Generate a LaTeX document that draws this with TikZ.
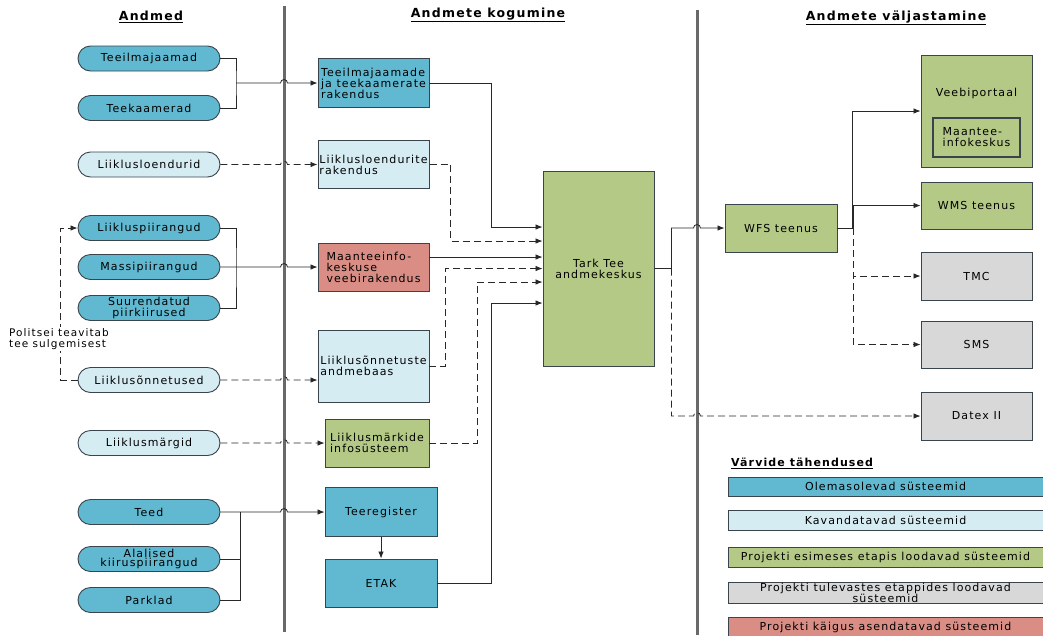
\documentclass[tikz,border=0pt]{standalone}
\usepackage{fontspec}
\setmainfont{DejaVu Sans}[LetterSpace=10]
\usetikzlibrary{shapes.geometric, arrows, arrows.meta, calc}
\definecolor{sysold}{RGB}{96,185,209}
\definecolor{sysplan}{RGB}{214,236,243}
\definecolor{sysfirst}{RGB}{181,201,134}
\definecolor{sysnext}{RGB}{216,216,216}
\definecolor{sysrepl}{RGB}{217,141,132}
\definecolor{rim}{RGB}{58,68,76}
\definecolor{wire}{RGB}{40,40,40}
\definecolor{divider}{RGB}{105,105,105}
\tikzstyle{pill} = [rectangle, rounded corners=12.5pt, minimum width=142pt, minimum height=25pt, text centered, align=center, draw=rim, line width=0.9pt, inner sep=1pt, font=\fontsize{11}{11.5}\selectfont]
\tikzstyle{sysbox} = [rectangle, minimum width=111pt, minimum height=48pt, align=left, draw=rim, line width=0.9pt, inner sep=1.5pt, font=\fontsize{11}{11}\selectfont]
\tikzstyle{keybox} = [rectangle, minimum width=315pt, minimum height=20pt, align=center, draw=rim, line width=0.9pt, inner sep=0.5pt, font=\fontsize{11}{8.5}\selectfont]
\tikzstyle{heading} = [font=\bfseries\fontsize{12.5}{14}\selectfont, inner sep=1pt]
\tikzstyle{wireline} = [draw=wire, line width=0.8pt]
\tikzstyle{arrow} = [wireline, -{Latex[length=7pt,width=5.5pt]}]
\tikzstyle{dline} = [wireline, dash pattern=on 7pt off 4pt]
\tikzstyle{darrow} = [arrow, dash pattern=on 7pt off 4pt]
\tikzstyle{divline} = [draw=divider, line width=3pt]

\begin{document}
\begin{tikzpicture}
[x=1pt, y=-1pt, every node/.style={font=\fontsize{11}{11}\selectfont}]
\fill[white] (0,0) rectangle (1043,635);
\useasboundingbox (0,0) rectangle (1043,635);

\coordinate (sepa) at (284,6);
\coordinate (sepb) at (697,10);
\draw[divline] (sepa) -- (284,632);
\draw[divline] (sepb) -- (697,635);

\node (hdata) [heading] at (151,17) {\underline{Andmed}};
\node (hcollect) [heading] at (488,15) {\underline{Andmete kogumine}};
\node (hout) [heading] at (896,18) {\underline{Andmete väljastamine}};

\node (tm) [pill, fill=sysold] at (149,58.5) {Teeilmajaamad};
\node (tk) [pill, fill=sysold] at (149,108) {Teekaamerad};
\node (ll) [pill, fill=sysplan] at (149,164.5) {Liiklusloendurid};
\node (lp) [pill, fill=sysold] at (149,228) {Liikluspiirangud};
\node (mp) [pill, fill=sysold] at (149,267) {Massipiirangud};
\node (sp) [pill, fill=sysold] at (149,308) {Suurendatud\\piirkiirused};
\node (lo) [pill, fill=sysplan] at (149,380) {Liiklusõnnetused};
\node (lm) [pill, fill=sysplan] at (149,443) {Liiklusmärgid};
\node (td) [pill, fill=sysold] at (149,512) {Teed};
\node (ak) [pill, fill=sysold, font=\fontsize{11}{9}\selectfont] at (149,559) {Alalised\\kiiruspiirangud};
\node (pk) [pill, fill=sysold] at (149,600) {Parklad};

\node (rak) [sysbox, fill=sysold, minimum height=49pt] at (373.5,83) {Teeilmajaamade\\ja teekaamerate\\rakendus};
\node (llr) [sysbox, fill=sysplan] at (373.5,164.5) {Liiklusloendurite\\rakendus};
\node (mvr) [sysbox, fill=sysrepl] at (373.5,267) {Maanteeinfo-\\keskuse\\veebirakendus};
\node (lor) [sysbox, fill=sysplan, minimum height=72pt] at (373.5,366) {Liiklusõnnetuste\\andmebaas};
\node (lmi) [sysbox, fill=sysfirst, minimum width=104pt] at (377,443) {Liiklusmärkide\\infosüsteem};
\node (treg) [sysbox, fill=sysold, minimum width=112pt, minimum height=49pt, align=center] at (381,512) {Teeregister};
\node (etak) [sysbox, fill=sysold, minimum width=112pt, align=center, below of=treg, node distance=71pt] {ETAK};

\node (tt) [sysbox, fill=sysfirst, minimum height=195pt, align=center] at (598.5,268.5) {Tark Tee\\andmekeskus};
\coordinate (tt1) at ([yshift=41.5pt]tt.west);
\coordinate (tt2) at ([yshift=27.5pt]tt.west);
\coordinate (tt3) at ([yshift=11.5pt]tt.west);
\coordinate (tt5) at ([yshift=-13.5pt]tt.west);
\coordinate (tt6) at ([yshift=-34.5pt]tt.west);

\node (wfs) [sysbox, fill=sysfirst, minimum width=112pt, align=center] at (781,228) {WFS teenus};
\node (vp) [sysbox, fill=sysfirst, minimum height=112pt] at (976.5,111) {};
\node (vplabel) at (976.5,93) {Veebiportaal};
\node (mik) [sysbox, fill=sysfirst, minimum width=87pt, minimum height=39pt, line width=1.2pt] at (976.5,137.5) {Maantee-\\infokeskus};
\node (wms) [sysbox, fill=sysfirst, minimum height=47pt, align=center] at (976.5,205.5) {WMS teenus};
\node (tmc) [sysbox, fill=sysnext, align=center] at (976.5,276) {TMC};
\node (sms) [sysbox, fill=sysnext, minimum height=47pt, align=center] at (976.5,344.5) {SMS};
\node (datex) [sysbox, fill=sysnext, align=center] at (976.5,416) {Datex II};

\node (hkey) [heading, font=\bfseries\fontsize{11}{13}\selectfont, anchor=west] at (730,463) {\underline{Värvide tähendused}};
\node (key1) [keybox, fill=sysold, minimum height=19pt] at (885.5,486.5) {Olemasolevad süsteemid};
\node (key2) [keybox, fill=sysplan] at (885.5,520) {Kavandatavad süsteemid};
\node (key3) [keybox, fill=sysfirst] at (885.5,557) {Projekti esimeses etapis loodavad süsteemid};
\node (key4) [keybox, fill=sysnext] at (885.5,593) {Projekti tulevastes etappides loodavad\\süsteemid};
\node (key5) [keybox, fill=sysrepl] at (885.5,627) {Projekti käigus asendatavad süsteemid};

\coordinate (jA) at (236,83);
\coordinate (jB) at (236,267);
\coordinate (jC) at (240,512);
\draw[wireline] (tm.east) -| (jA) |- (tk.east);
\draw[arrow] (jA) -- ($(sepa |- jA)+(-3.5,0)$) arc[start angle=180, end angle=0, radius=3.5pt] -- (rak.west);
\draw[darrow] (ll.east) -- ($(sepa |- ll.east)+(-3.5,0)$) arc[start angle=180, end angle=0, radius=3.5pt] -- (llr.west);
\draw[wireline] (lp.east) -| (jB) |- (sp.east);
\draw[arrow] (mp.east) -- ($(sepa |- mp.east)+(-3.5,0)$) arc[start angle=180, end angle=0, radius=3.5pt] -- (mvr.west);
\draw[darrow] (lo.east) -- ($(sepa |- lo.east)+(-3.5,0)$) arc[start angle=180, end angle=0, radius=3.5pt] -- (lor.west |- lo.east);
\draw[darrow] (lm.east) -- ($(sepa |- lm.east)+(-3.5,0)$) arc[start angle=180, end angle=0, radius=3.5pt] -- (lmi.west);
\draw[wireline] (pk.east) -| (jC);
\draw[wireline] (ak.east) -- (ak.east -| jC);
\draw[arrow] (td.east) -- ($(sepa |- td.east)+(-3.5,0)$) arc[start angle=180, end angle=0, radius=3.5pt] -- (treg.west);
\draw[arrow] (treg) -- (etak);

\draw[darrow] (lo.west) -| ([xshift=-17pt]lp.west) -- (lp.west);
\node (police) [fill=white, align=left, inner sep=1pt, font=\fontsize{10.5}{11}\selectfont] at (59,339) {Politsei teavitab\\tee sulgemisest};

\draw[arrow] (rak.east) -| ([xshift=-51pt]tt1) -- (tt1);
\draw[darrow] (llr.east) -| ([xshift=-92pt]tt2) -- (tt2);
\draw[arrow] ([yshift=10pt]mvr.east) -- (tt3);
\draw[darrow] (lor.east) -| ([xshift=-97pt]tt.west) -- (tt.west);
\draw[darrow] (lmi.east) -| ([xshift=-65pt]tt5) -- (tt5);
\draw[arrow] (etak.east) -| ([xshift=-51pt]tt6) -- (tt6);

\draw[arrow] (tt.east) -- ++(17,0) |- ($(sepb |- wfs.west)+(-3.5,0)$) arc[start angle=180, end angle=0, radius=3.5pt] -- (wfs.west);
\draw[darrow] ([xshift=17pt]tt.east) |- ($(sepb |- datex.west)+(-3.5,0)$) arc[start angle=180, end angle=0, radius=3.5pt] -- (datex.west);

\draw[arrow] (wfs.east) -| ([xshift=-68pt]vp.west) -- (vp.west);
\draw[arrow] ([xshift=16pt]wfs.east) |- (wms.west);
\draw[darrow] ([xshift=16pt]wfs.east) |- (tmc.west);
\draw[darrow] ([xshift=16pt]wfs.east) |- (sms.west);

\end{tikzpicture}
\end{document}
